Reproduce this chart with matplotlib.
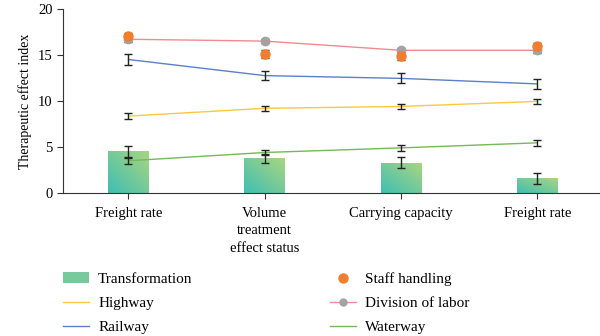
import matplotlib.pyplot as plt
import matplotlib.colors as mcolors
from matplotlib.patches import Patch
from matplotlib.lines import Line2D
import numpy as np

categories = ["Freight rate", "Volume\ntreatment\neffect status", "Carrying capacity", "Freight rate"]

transformation = [4.55, 3.75, 3.27, 1.58]
transformation_err = [0.6, 0.5, 0.6, 0.6]
highway = [8.35, 9.2, 9.4, 9.95]
highway_err = [0.3, 0.3, 0.3, 0.3]
railway = [14.5, 12.75, 12.45, 11.85]
railway_err = [0.55, 0.5, 0.55, 0.5]
waterway = [3.5, 4.4, 4.9, 5.45]
waterway_err = [0.35, 0.3, 0.35, 0.35]
division = [16.7, 16.5, 15.5, 15.5]
division_err = [0.3, 0.2, 0.2, 0.3]
staff = [17.0, 15.1, 14.9, 16.0]
staff_err = [0.4, 0.4, 0.4, 0.3]

plt.rcParams["font.family"] = ["Liberation Serif", "DejaVu Serif"]
plt.rcParams["font.size"] = 10.5

fig = plt.figure(figsize=(6, 3.36), dpi=100)
ax = fig.add_axes([0.105, 0.4256, 0.895, 0.548])

x = np.arange(len(categories))
ekw = dict(fmt="none", ecolor="#222222", elinewidth=1.0, capsize=3.2, capthick=1.0, zorder=5)

# gradient bars
cmap = mcolors.LinearSegmentedColormap.from_list("tg", ["#3fbfb3", "#a9d581"])
bars = ax.bar(x, transformation, width=0.3, color="none", edgecolor="none", zorder=2)
grad = np.add.outer(np.linspace(0, 1, 64), np.linspace(0, 1, 64)) / 2
for b in bars:
    x0, y0 = b.get_x(), b.get_y()
    w, h = b.get_width(), b.get_height()
    im = ax.imshow(grad, cmap=cmap, origin="lower", extent=(x0, x0 + w, y0, y0 + h),
                   aspect="auto", zorder=2)
    im.set_clip_path(b)
ax.errorbar(x, transformation, yerr=transformation_err, **ekw)

ax.plot(x, highway, color="#ffc83d", lw=1.0, zorder=3)
ax.errorbar(x, highway, yerr=highway_err, **ekw)
ax.plot(x, railway, color="#5b80c8", lw=1.0, zorder=3)
ax.errorbar(x, railway, yerr=railway_err, **ekw)
ax.plot(x, waterway, color="#76b957", lw=1.0, zorder=3)
ax.errorbar(x, waterway, yerr=waterway_err, **ekw)
ax.errorbar(x, division, yerr=division_err, **ekw)
ax.plot(x, division, color="#f28b8e", lw=1.0, marker="o", ms=6,
        mfc="#a3a3a3", mec="#a3a3a3", zorder=6)
ax.errorbar(x, staff, yerr=staff_err, **ekw)
ax.plot(x, staff, ls="none", marker="o", ms=6.5, mfc="#f07e2c", mec="#f07e2c", zorder=7)

ax.set_xlim(-0.48, 3.46)
ax.set_ylim(0, 20)
ax.set_yticks([0, 5, 10, 15, 20])
ax.set_xticks(x)
ax.set_xticklabels(categories, linespacing=1.45)
ax.set_ylabel("Therapeutic effect index", fontsize=10)
for s in ["top", "right"]:
    ax.spines[s].set_visible(False)
ax.spines["left"].set_color("#333333")
ax.spines["bottom"].set_color("#333333")
ax.tick_params(colors="#333333", length=4, width=0.8)
ax.tick_params(axis="x", pad=6)
ax.tick_params(labelcolor="black")

handles = [
    Patch(facecolor="#78c99c", edgecolor="none"),
    Line2D([], [], color="#ffc83d", lw=1),
    Line2D([], [], color="#5b80c8", lw=1),
    Line2D([], [], ls="none", marker="o", ms=6.5, mfc="#f07e2c", mec="#f07e2c"),
    Line2D([], [], color="#f28b8e", lw=1, marker="o", ms=5, mfc="#a3a3a3", mec="#a3a3a3"),
    Line2D([], [], color="#76b957", lw=1),
]
labels = ["Transformation", "Highway", "Railway", "Staff handling", "Division of labor", "Waterway"]
fig.legend(handles, labels, loc="upper left", bbox_to_anchor=(0.105, 0.19), ncol=2,
           frameon=False, borderpad=0, handlelength=1.7, handletextpad=0.6,
           labelspacing=0.68, columnspacing=9.0, borderaxespad=0, fontsize=11)

fig.savefig("out.png", dpi=100)
